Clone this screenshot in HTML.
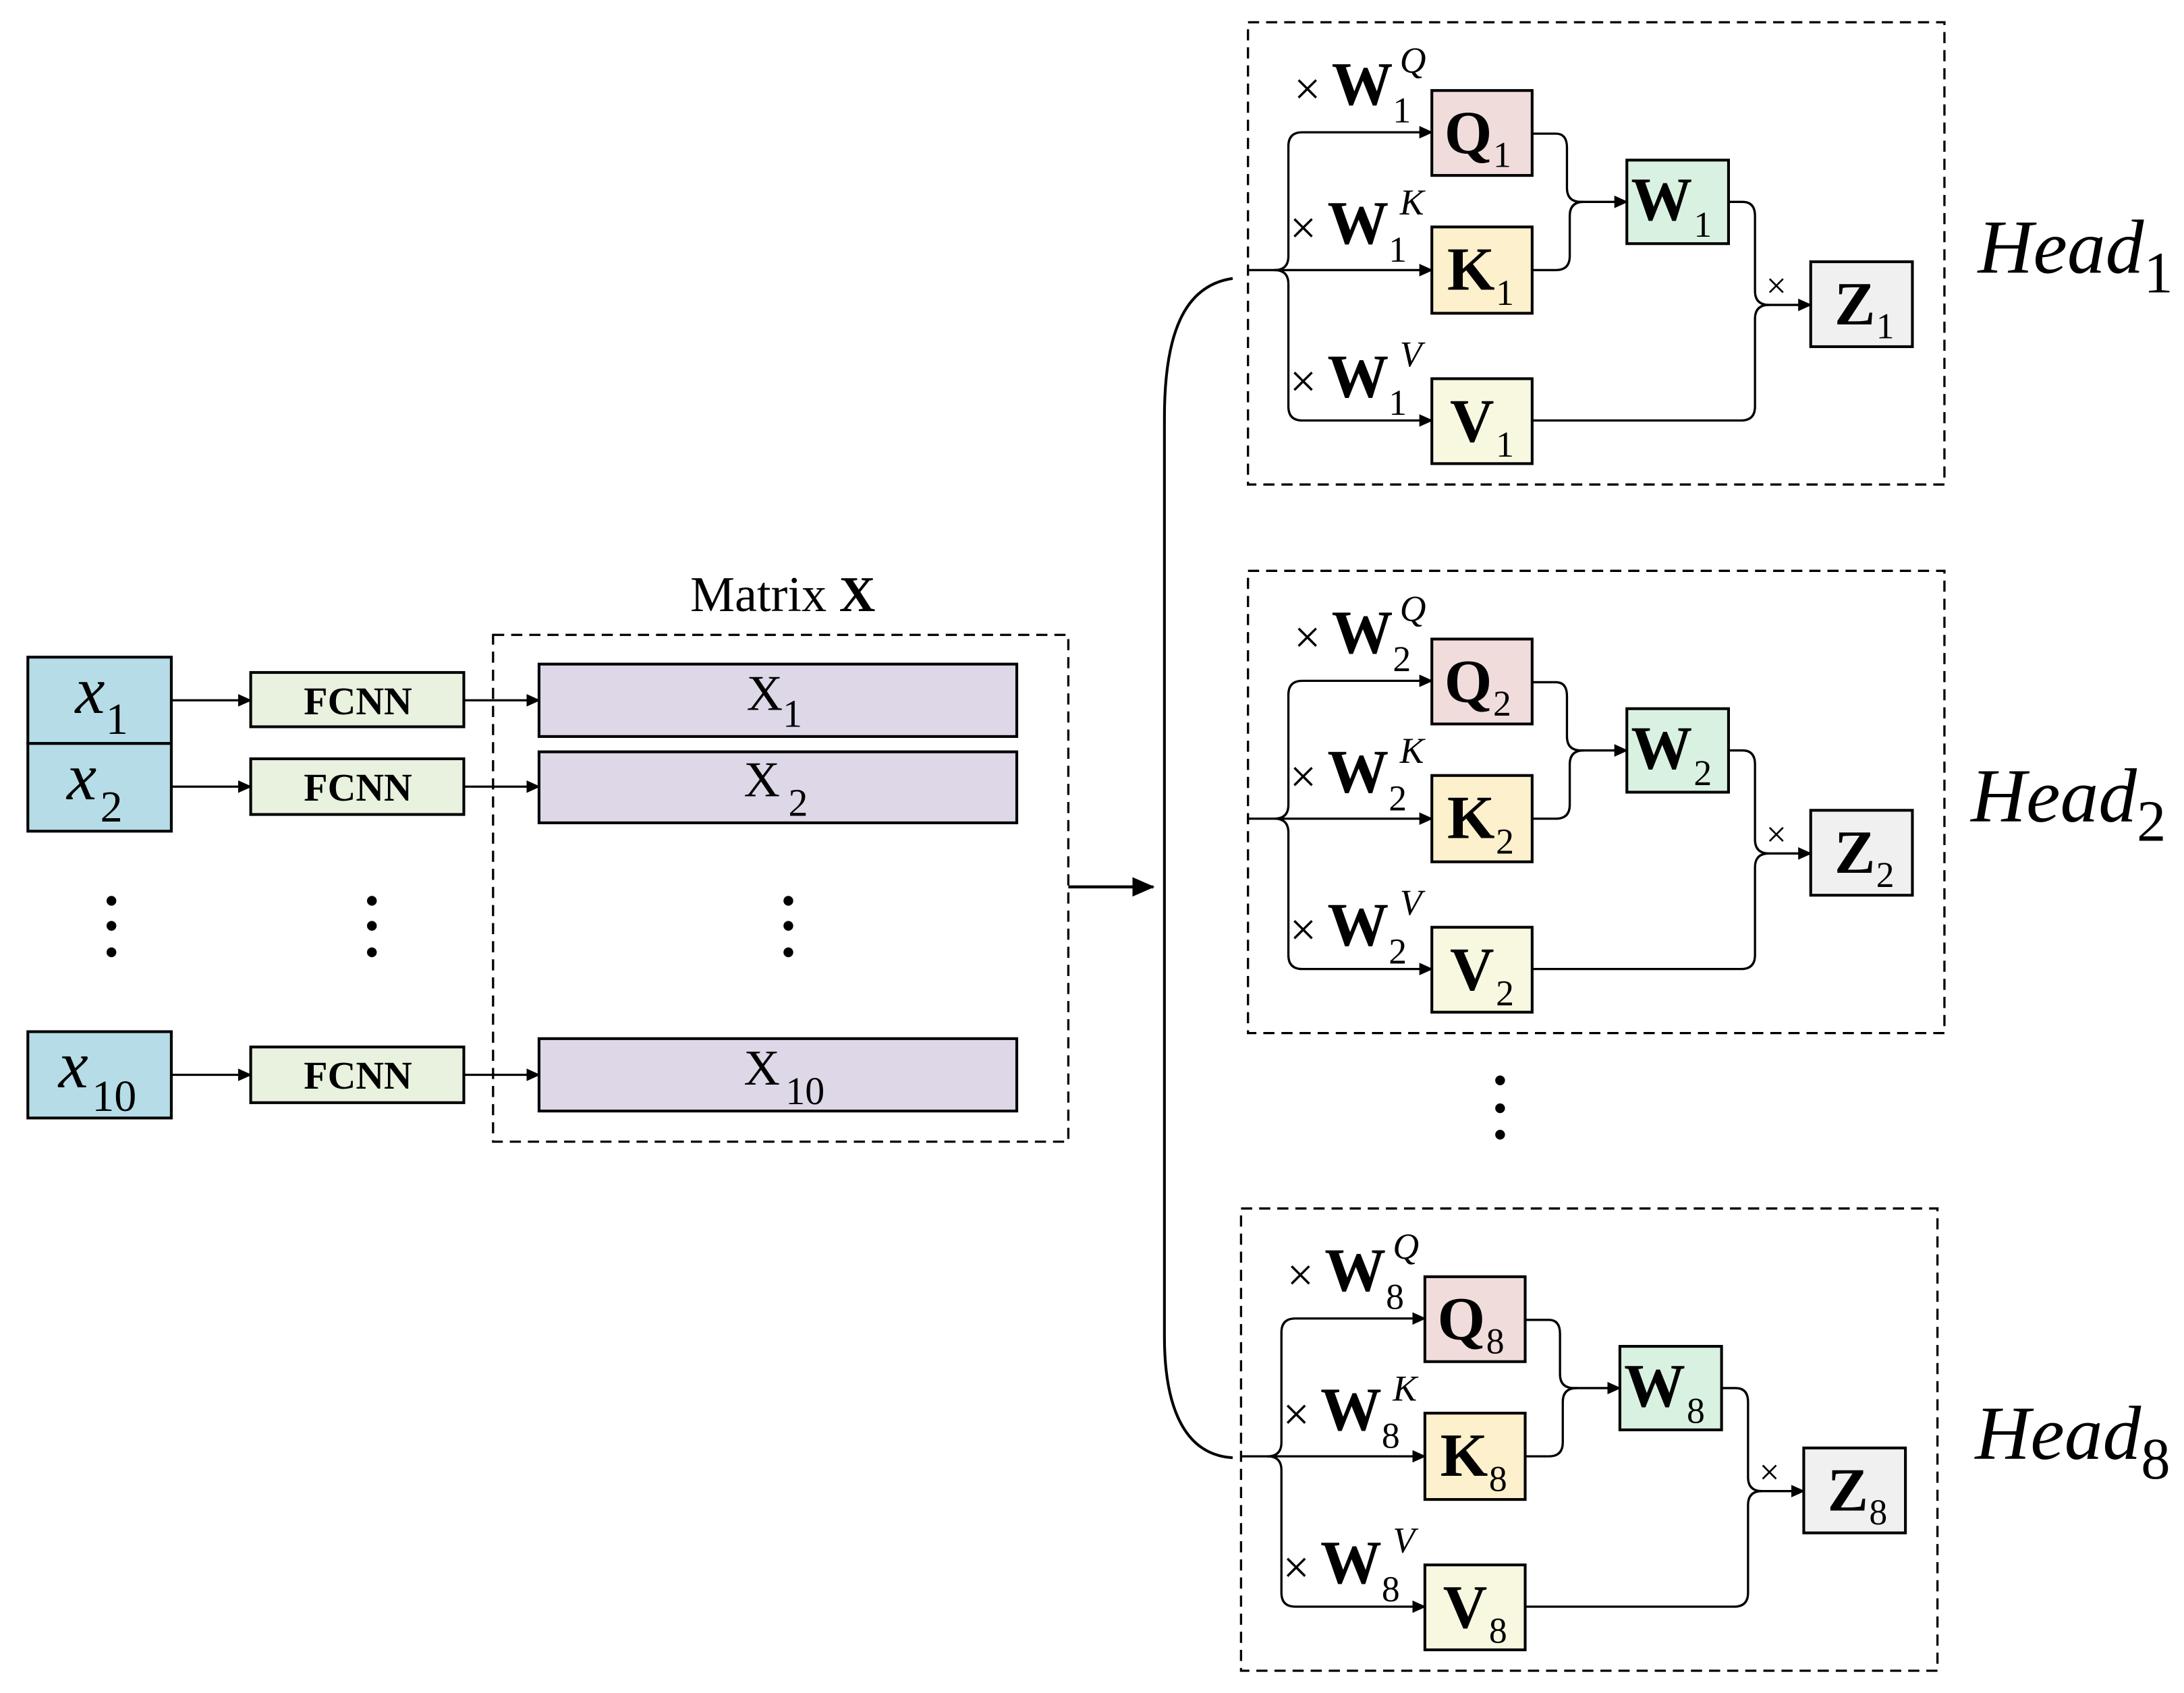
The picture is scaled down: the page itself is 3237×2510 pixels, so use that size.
<!DOCTYPE html>
<html><head><meta charset="utf-8"><style>
html,body{margin:0;padding:0;background:#fff;}
svg{display:block;}
text{font-family:"Liberation Serif",serif;fill:#000;}
</style></head><body>
<svg width="3237" height="2510" viewBox="0 0 1568 1216" preserveAspectRatio="none" xmlns="http://www.w3.org/2000/svg">
<defs>
<marker id="ar" markerWidth="10" markerHeight="10" refX="9" refY="5" orient="auto" markerUnits="userSpaceOnUse">
<path d="M0,0.5 L10,5 L0,9.5 Z" fill="#000"/></marker>
<marker id="arb" markerWidth="16" markerHeight="14" refX="15" refY="7" orient="auto" markerUnits="userSpaceOnUse">
<path d="M0,0 L16,7 L0,14 Z" fill="#000"/></marker>
</defs>

<g stroke="#000" stroke-width="2">
<rect x="20" y="472" width="103" height="62" fill="#b5dce7"/>
<rect x="20" y="534" width="103" height="63" fill="#b5dce7"/>
<rect x="20" y="741" width="103" height="62" fill="#b5dce7"/>
<rect x="180" y="483" width="153" height="39" fill="#e9f1df"/>
<rect x="180" y="545" width="153" height="40" fill="#e9f1df"/>
<rect x="180" y="752" width="153" height="40" fill="#e9f1df"/>
<rect x="387" y="477" width="343" height="52" fill="#ddd7e7"/>
<rect x="387" y="540" width="343" height="51" fill="#ddd7e7"/>
<rect x="387" y="746" width="343" height="52" fill="#ddd7e7"/>
</g>
<rect x="354" y="456" width="413" height="364" fill="none" stroke="#000" stroke-width="1.6" stroke-dasharray="8,5"/>
<g stroke="#000" stroke-width="1.6" fill="none">
<line x1="123" y1="503" x2="180" y2="503" marker-end="url(#ar)"/>
<line x1="123" y1="565" x2="180" y2="565" marker-end="url(#ar)"/>
<line x1="123" y1="772" x2="180" y2="772" marker-end="url(#ar)"/>
<line x1="333" y1="503" x2="387" y2="503" marker-end="url(#ar)"/>
<line x1="333" y1="565" x2="387" y2="565" marker-end="url(#ar)"/>
<line x1="333" y1="772" x2="387" y2="772" marker-end="url(#ar)"/>
<line x1="767" y1="637" x2="828" y2="637" stroke-width="2.2" marker-end="url(#arb)"/>
<path d="M885,200 C850,205 836,240 836,300 L836,960 C836,1010 850,1045 885,1047" stroke-width="2"/>
</g>
<g fill="#000">
<circle cx="80" cy="647" r="3.5"/><circle cx="80" cy="665" r="3.5"/><circle cx="80" cy="684" r="3.5"/>
<circle cx="267" cy="647" r="3.5"/><circle cx="267" cy="665" r="3.5"/><circle cx="267" cy="684" r="3.5"/>
<circle cx="566" cy="647" r="3.5"/><circle cx="566" cy="665" r="3.5"/><circle cx="566" cy="684" r="3.5"/>
<circle cx="1077" cy="776" r="3.5"/><circle cx="1077" cy="796" r="3.5"/><circle cx="1077" cy="815" r="3.5"/>
</g>
<text x="54" y="512" font-size="48" font-style="italic">x</text><text x="76" y="527" font-size="32">1</text>
<text x="48" y="574" font-size="48" font-style="italic">x</text><text x="72" y="590" font-size="32">2</text>
<text x="42" y="781" font-size="48" font-style="italic">x</text><text x="66" y="798" font-size="32">10</text>
<text x="257" y="513" font-size="28" font-weight="bold" text-anchor="middle">FCNN</text>
<text x="257" y="575" font-size="28" font-weight="bold" text-anchor="middle">FCNN</text>
<text x="257" y="782" font-size="28" font-weight="bold" text-anchor="middle">FCNN</text>
<text x="536" y="510" font-size="36">X</text><text x="562" y="522" font-size="28">1</text>
<text x="534" y="572" font-size="36">X</text><text x="566" y="586" font-size="28">2</text>
<text x="534" y="779" font-size="36">X</text><text x="564" y="793" font-size="28">10</text>
<text x="562" y="439" font-size="36" text-anchor="middle">Matrix <tspan font-weight="bold">X</tspan></text>

<g>
<rect x="896" y="16" width="500" height="332" fill="none" stroke="#000" stroke-width="1.6" stroke-dasharray="8,5"/>
<g stroke="#000" stroke-width="2">
<rect x="1028" y="65" width="72" height="61" fill="#f1dcdc"/>
<rect x="1028" y="163" width="72" height="62" fill="#fdf0cc"/>
<rect x="1028" y="272" width="72" height="61" fill="#f8f8e1"/>
<rect x="1168" y="115" width="73" height="60" fill="#d9f1e1"/>
<rect x="1300" y="188" width="73" height="61" fill="#f0f0f0"/>
</g>
<g stroke="#000" stroke-width="1.6" fill="none">
<path d="M896,194 L1028,194" marker-end="url(#ar)"/>
<path d="M915,194 Q925,194 925,184 L925,105 Q925,95 935,95 L1028,95" marker-end="url(#ar)"/>
<path d="M915,194 Q925,194 925,204 L925,292 Q925,302 935,302 L1028,302" marker-end="url(#ar)"/>
<path d="M1100,96 L1117,96 Q1125,96 1125,106 L1125,135 Q1125,145 1135,145 L1168,145" marker-end="url(#ar)"/>
<path d="M1100,194 L1117,194 Q1127,194 1127,184 L1127,155 Q1127,145 1137,145"/>
<path d="M1241,145 L1251,145 Q1260,145 1260,155 L1260,209 Q1260,219 1270,219 L1300,219" marker-end="url(#ar)"/>
<path d="M1100,302 L1250,302 Q1260,302 1260,292 L1260,229 Q1260,219 1270,219"/>
</g>
<text x="1037" y="110" font-size="44" font-weight="bold">Q</text><text x="1072" y="120" font-size="26">1</text>
<text x="1039" y="208" font-size="44" font-weight="bold">K</text><text x="1074" y="219" font-size="26">1</text>
<text x="1041" y="317" font-size="44" font-weight="bold">V</text><text x="1074" y="328" font-size="26">1</text>
<text x="1171" y="158" font-size="44" font-weight="bold">W</text><text x="1216" y="170" font-size="26">1</text>
<text x="1317" y="233" font-size="44" font-weight="bold">Z</text><text x="1347" y="243" font-size="26">1</text>
<text x="1268" y="214" font-size="26">×</text>
<text x="929" y="75" font-size="34">×</text><text x="956" y="75" font-size="44" font-weight="bold">W</text><text x="1000" y="88" font-size="26">1</text><text x="1005" y="52" font-size="26" font-style="italic">Q</text>
<text x="926" y="175" font-size="34">×</text><text x="953" y="175" font-size="44" font-weight="bold">W</text><text x="997" y="188" font-size="26">1</text><text x="1005" y="154" font-size="26" font-style="italic">K</text>
<text x="926" y="285" font-size="34">×</text><text x="953" y="285" font-size="44" font-weight="bold">W</text><text x="997" y="298" font-size="26">1</text><text x="1005" y="263" font-size="26" font-style="italic">V</text>
<text x="1420" y="196" font-size="55" font-style="italic">Head<tspan font-style="normal" font-size="42" dy="14">1</tspan></text>
</g>

<g transform="translate(0,394)">
<rect x="896" y="16" width="500" height="332" fill="none" stroke="#000" stroke-width="1.6" stroke-dasharray="8,5"/>
<g stroke="#000" stroke-width="2">
<rect x="1028" y="65" width="72" height="61" fill="#f1dcdc"/>
<rect x="1028" y="163" width="72" height="62" fill="#fdf0cc"/>
<rect x="1028" y="272" width="72" height="61" fill="#f8f8e1"/>
<rect x="1168" y="115" width="73" height="60" fill="#d9f1e1"/>
<rect x="1300" y="188" width="73" height="61" fill="#f0f0f0"/>
</g>
<g stroke="#000" stroke-width="1.6" fill="none">
<path d="M896,194 L1028,194" marker-end="url(#ar)"/>
<path d="M915,194 Q925,194 925,184 L925,105 Q925,95 935,95 L1028,95" marker-end="url(#ar)"/>
<path d="M915,194 Q925,194 925,204 L925,292 Q925,302 935,302 L1028,302" marker-end="url(#ar)"/>
<path d="M1100,96 L1117,96 Q1125,96 1125,106 L1125,135 Q1125,145 1135,145 L1168,145" marker-end="url(#ar)"/>
<path d="M1100,194 L1117,194 Q1127,194 1127,184 L1127,155 Q1127,145 1137,145"/>
<path d="M1241,145 L1251,145 Q1260,145 1260,155 L1260,209 Q1260,219 1270,219 L1300,219" marker-end="url(#ar)"/>
<path d="M1100,302 L1250,302 Q1260,302 1260,292 L1260,229 Q1260,219 1270,219"/>
</g>
<text x="1037" y="110" font-size="44" font-weight="bold">Q</text><text x="1072" y="120" font-size="26">2</text>
<text x="1039" y="208" font-size="44" font-weight="bold">K</text><text x="1074" y="219" font-size="26">2</text>
<text x="1041" y="317" font-size="44" font-weight="bold">V</text><text x="1074" y="328" font-size="26">2</text>
<text x="1171" y="158" font-size="44" font-weight="bold">W</text><text x="1216" y="170" font-size="26">2</text>
<text x="1317" y="233" font-size="44" font-weight="bold">Z</text><text x="1347" y="243" font-size="26">2</text>
<text x="1268" y="214" font-size="26">×</text>
<text x="929" y="75" font-size="34">×</text><text x="956" y="75" font-size="44" font-weight="bold">W</text><text x="1000" y="88" font-size="26">2</text><text x="1005" y="52" font-size="26" font-style="italic">Q</text>
<text x="926" y="175" font-size="34">×</text><text x="953" y="175" font-size="44" font-weight="bold">W</text><text x="997" y="188" font-size="26">2</text><text x="1005" y="154" font-size="26" font-style="italic">K</text>
<text x="926" y="285" font-size="34">×</text><text x="953" y="285" font-size="44" font-weight="bold">W</text><text x="997" y="298" font-size="26">2</text><text x="1005" y="263" font-size="26" font-style="italic">V</text>
<text x="1415" y="196" font-size="55" font-style="italic">Head<tspan font-style="normal" font-size="42" dy="14">2</tspan></text>
</g>

<g transform="translate(-5,852)">
<rect x="896" y="16" width="500" height="332" fill="none" stroke="#000" stroke-width="1.6" stroke-dasharray="8,5"/>
<g stroke="#000" stroke-width="2">
<rect x="1028" y="65" width="72" height="61" fill="#f1dcdc"/>
<rect x="1028" y="163" width="72" height="62" fill="#fdf0cc"/>
<rect x="1028" y="272" width="72" height="61" fill="#f8f8e1"/>
<rect x="1168" y="115" width="73" height="60" fill="#d9f1e1"/>
<rect x="1300" y="188" width="73" height="61" fill="#f0f0f0"/>
</g>
<g stroke="#000" stroke-width="1.6" fill="none">
<path d="M896,194 L1028,194" marker-end="url(#ar)"/>
<path d="M915,194 Q925,194 925,184 L925,105 Q925,95 935,95 L1028,95" marker-end="url(#ar)"/>
<path d="M915,194 Q925,194 925,204 L925,292 Q925,302 935,302 L1028,302" marker-end="url(#ar)"/>
<path d="M1100,96 L1117,96 Q1125,96 1125,106 L1125,135 Q1125,145 1135,145 L1168,145" marker-end="url(#ar)"/>
<path d="M1100,194 L1117,194 Q1127,194 1127,184 L1127,155 Q1127,145 1137,145"/>
<path d="M1241,145 L1251,145 Q1260,145 1260,155 L1260,209 Q1260,219 1270,219 L1300,219" marker-end="url(#ar)"/>
<path d="M1100,302 L1250,302 Q1260,302 1260,292 L1260,229 Q1260,219 1270,219"/>
</g>
<text x="1037" y="110" font-size="44" font-weight="bold">Q</text><text x="1072" y="120" font-size="26">8</text>
<text x="1039" y="208" font-size="44" font-weight="bold">K</text><text x="1074" y="219" font-size="26">8</text>
<text x="1041" y="317" font-size="44" font-weight="bold">V</text><text x="1074" y="328" font-size="26">8</text>
<text x="1171" y="158" font-size="44" font-weight="bold">W</text><text x="1216" y="170" font-size="26">8</text>
<text x="1317" y="233" font-size="44" font-weight="bold">Z</text><text x="1347" y="243" font-size="26">8</text>
<text x="1268" y="214" font-size="26">×</text>
<text x="929" y="75" font-size="34">×</text><text x="956" y="75" font-size="44" font-weight="bold">W</text><text x="1000" y="88" font-size="26">8</text><text x="1005" y="52" font-size="26" font-style="italic">Q</text>
<text x="926" y="175" font-size="34">×</text><text x="953" y="175" font-size="44" font-weight="bold">W</text><text x="997" y="188" font-size="26">8</text><text x="1005" y="154" font-size="26" font-style="italic">K</text>
<text x="926" y="285" font-size="34">×</text><text x="953" y="285" font-size="44" font-weight="bold">W</text><text x="997" y="298" font-size="26">8</text><text x="1005" y="263" font-size="26" font-style="italic">V</text>
<text x="1423" y="196" font-size="55" font-style="italic">Head<tspan font-style="normal" font-size="42" dy="14">8</tspan></text>
</g>
</svg>
</body></html>
